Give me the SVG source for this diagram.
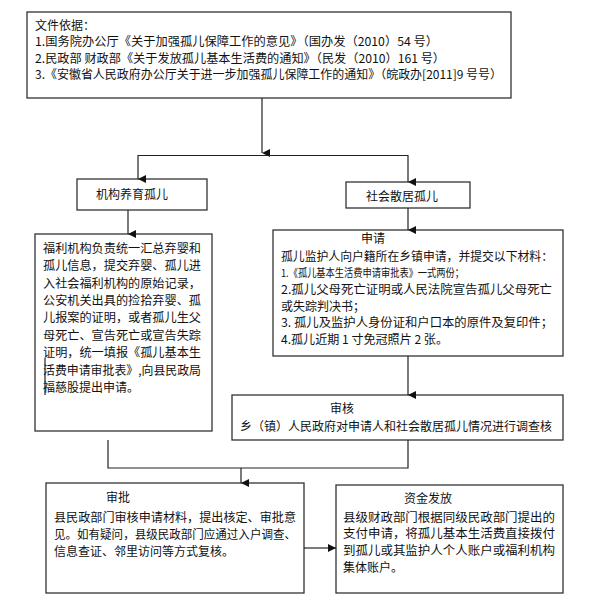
<svg xmlns="http://www.w3.org/2000/svg" width="600" height="608" viewBox="0 0 600 608">
<style>
.box{fill:#fff;stroke:#333;stroke-width:1.3}
.t{font-family:"Noto Sans CJK SC","Noto Sans CJK JP",sans-serif;font-size:12px;fill:#111}
.c{fill:none;stroke:#222;stroke-width:1.2}
</style>
<defs>
<marker id="ah" markerUnits="userSpaceOnUse" markerWidth="8" markerHeight="9" refX="4" refY="8" orient="auto-start-reverse" viewBox="0 0 8 9">
<path d="M0,0 L8,0 L4,8 Z" fill="#111"/>
</marker>
<marker id="ar" markerUnits="userSpaceOnUse" markerWidth="9" markerHeight="8" refX="8" refY="4" viewBox="0 0 9 8">
<path d="M0,0 L8,4 L0,8 Z" fill="#111"/>
</marker>
</defs>
<rect width="600" height="608" fill="#fff"/>

<g id="basis">
<rect class="box" x="27" y="12" width="484" height="86"/>
<text class="t" x="35" y="30">文件依据：</text>
<text class="t" x="35" y="46" textLength="403" lengthAdjust="spacingAndGlyphs">1.国务院办公厅《关于加强孤儿保障工作的意见》（国办发（2010）54 号）</text>
<text class="t" x="35" y="63" textLength="410" lengthAdjust="spacingAndGlyphs">2.民政部 财政部《关于发放孤儿基本生活费的通知》（民发（2010）161 号）</text>
<text class="t" x="35" y="79" textLength="467" lengthAdjust="spacingAndGlyphs">3.《安徽省人民政府办公厅关于进一步加强孤儿保障工作的通知》（皖政办[2011]9 号号）</text>
</g>

<g id="institution">
<rect class="box" x="77" y="179" width="130" height="31"/>
<text class="t" x="96" y="199">机构养育孤儿</text>
</g>

<g id="scattered">
<rect class="box" x="346" y="182" width="124" height="26"/>
<text class="t" x="366" y="201">社会散居孤儿</text>
</g>

<g id="welfare">
<rect class="box" x="35" y="234" width="177" height="197"/>
<text class="t" x="43" y="253" textLength="158" lengthAdjust="spacingAndGlyphs">福利机构负责统一汇总弃婴和</text>
<text class="t" x="43" y="270" textLength="158" lengthAdjust="spacingAndGlyphs">孤儿信息，提交弃婴、孤儿进</text>
<text class="t" x="43" y="288" textLength="158" lengthAdjust="spacingAndGlyphs">入社会福利机构的原始记录，</text>
<text class="t" x="43" y="305" textLength="158" lengthAdjust="spacingAndGlyphs">公安机关出具的捡拾弃婴、孤</text>
<text class="t" x="43" y="322" textLength="158" lengthAdjust="spacingAndGlyphs">儿报案的证明，或者孤儿生父</text>
<text class="t" x="43" y="340" textLength="158" lengthAdjust="spacingAndGlyphs">母死亡、宣告死亡或宣告失踪</text>
<text class="t" x="43" y="357" textLength="158" lengthAdjust="spacingAndGlyphs">证明，统一填报《孤儿基本生</text>
<text class="t" x="43" y="375" textLength="158" lengthAdjust="spacingAndGlyphs">活费申请审批表》,向县民政局</text>
<text class="t" x="43" y="392">福慈股提出申请。</text>
</g>

<g id="apply">
<rect class="box" x="273" y="230" width="290" height="126"/>
<text class="t" x="373" y="243" text-anchor="middle">申请</text>
<text class="t" x="281" y="261" textLength="272" lengthAdjust="spacingAndGlyphs">孤儿监护人向户籍所在乡镇申请，并提交以下材料：</text>
<text class="t" x="281" y="277" style="font-size:11px" textLength="183" lengthAdjust="spacingAndGlyphs">1.《孤儿基本生活费申请审批表》一式两份；</text>
<text class="t" x="281" y="294" textLength="271" lengthAdjust="spacingAndGlyphs">2.孤儿父母死亡证明或人民法院宣告孤儿父母死亡</text>
<text class="t" x="281" y="311">或失踪判决书；</text>
<text class="t" x="281" y="327" textLength="272" lengthAdjust="spacingAndGlyphs">3. 孤儿及监护人身份证和户口本的原件及复印件；</text>
<text class="t" x="281" y="344" textLength="167" lengthAdjust="spacingAndGlyphs">4.孤儿近期 1 寸免冠照片 2 张。</text>
</g>

<g id="review">
<rect class="box" x="232" y="395" width="331" height="45"/>
<text class="t" x="342" y="413" text-anchor="middle">审核</text>
<text class="t" x="240" y="431" textLength="312" lengthAdjust="spacingAndGlyphs">乡（镇）人民政府对申请人和社会散居孤儿情况进行调查核</text>
</g>

<g id="approve">
<rect class="box" x="46" y="483" width="258" height="110"/>
<text class="t" x="118" y="502" text-anchor="middle">审批</text>
<text class="t" x="54" y="522" textLength="242" lengthAdjust="spacingAndGlyphs">县民政部门审核申请材料，提出核定、审批意</text>
<text class="t" x="54" y="539" textLength="242" lengthAdjust="spacingAndGlyphs">见。如有疑问，县级民政部门应通过入户调查、</text>
<text class="t" x="54" y="556">信息查证、邻里访问等方式复核。</text>
</g>

<g id="payment">
<rect class="box" x="336" y="485" width="227" height="108"/>
<text class="t" x="428" y="503" text-anchor="middle">资金发放</text>
<text class="t" x="343" y="522" textLength="212" lengthAdjust="spacingAndGlyphs">县级财政部门根据同级民政部门提出的</text>
<text class="t" x="343" y="538" textLength="212" lengthAdjust="spacingAndGlyphs">支付申请，将孤儿基本生活费直接拨付</text>
<text class="t" x="343" y="555" textLength="212" lengthAdjust="spacingAndGlyphs">到孤儿或其监护人个人账户或福利机构</text>
<text class="t" x="343" y="572">集体账户。</text>
</g>

<g id="connectors">
<line class="c" x1="262" y1="98" x2="262" y2="153" marker-end="url(#ah)"/>
<polyline class="c" points="138,179 138,155.5 408,155.5 408,182" marker-start="url(#ah)" marker-end="url(#ah)"/>
<line class="c" x1="128" y1="210" x2="128" y2="234" marker-end="url(#ah)"/>
<line class="c" x1="408" y1="208" x2="408" y2="230" marker-end="url(#ah)"/>
<line class="c" x1="408" y1="356" x2="408" y2="395" marker-end="url(#ah)"/>
<line class="c" x1="45" y1="358" x2="45" y2="395"/>
<polyline class="c" points="108,440 108,468 408,468 408,440"/>
<line class="c" x1="241" y1="468" x2="241" y2="483" marker-end="url(#ah)"/>
<line class="c" x1="304" y1="548" x2="336" y2="548" marker-end="url(#ar)"/>
</g>
</svg>
